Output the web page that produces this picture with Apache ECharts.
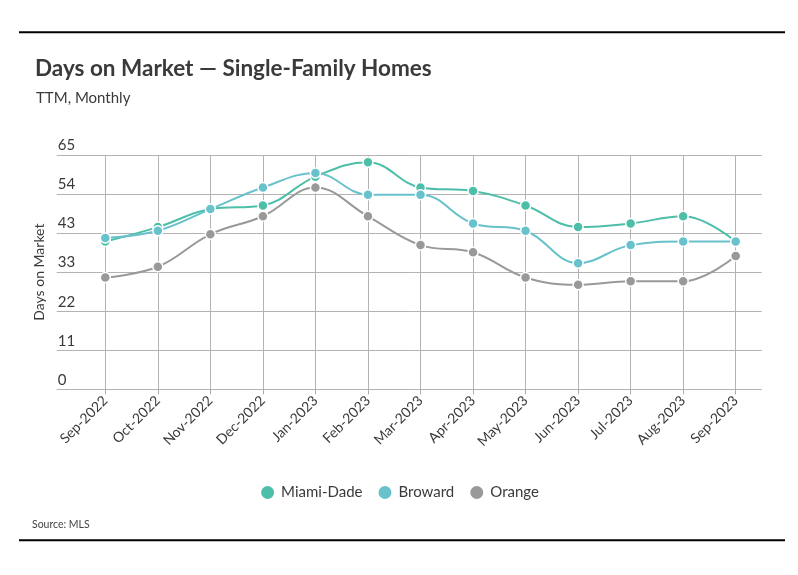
<!DOCTYPE html>
<html>
<head>
<meta charset="utf-8">
<script src="https://cdn.jsdelivr.net/npm/echarts@6/dist/echarts.min.js"></script>
<style>
html,body{margin:0;padding:0;background:#fff;}
#chart{width:798px;height:575px;}
</style>
</head>
<body>
<div id="chart"></div>
<script>
const categories = ['Sep-2022','Oct-2022','Nov-2022','Dec-2022','Jan-2023','Feb-2023','Mar-2023','Apr-2023','May-2023','Jun-2023','Jul-2023','Aug-2023','Sep-2023'];
const miamiDade = [41, 45, 50, 51, 59, 63, 56, 55, 51, 45, 46, 48, 41];
const broward   = [42, 44, 50, 56, 60, 54, 54, 46, 44, 35, 40, 41, 41];
const orange    = [31, 34, 43, 48, 56, 48, 40, 38, 31, 29, 30, 30, 37];
const yTickLabels = ['0','11','22','33','43','54','65'];
const seriesNames = ['Miami-Dade','Broward','Orange'];
const colors = ['#4dbfa9','#68c2cc','#999999'];

const FONT = 'Lato, "Liberation Sans", sans-serif';
const chart = echarts.init(document.getElementById('chart'), null, {renderer:'canvas'});

const yMax = 65, yInt = 65/6;
const gridTop = 155, gridBottom = 575 - 389.3;

function mkSeries(name, data, color){
  return {
    name: name, type: 'line', data: data, smooth: 0.4,
    xAxisIndex: 0, yAxisIndex: 0,
    symbol: 'circle', symbolSize: 10,
    lineStyle: {color: color, width: 2},
    itemStyle: {color: color, borderColor: '#fff', borderWidth: 1.5},
    emphasis: {disabled: true}
  };
}

chart.setOption({
  animation: false,
  backgroundColor: '#fff',
  title: [
    {text: 'Days on Market \u2014 Single-Family Homes', left: 30, top: 52,
     textStyle: {fontFamily: FONT, fontSize: 22.5, fontWeight: 'bold', color: '#3a3a3a'}},
    {text: 'TTM, Monthly', left: 31, top: 86,
     textStyle: {fontFamily: FONT, fontSize: 15, fontWeight: 'normal', color: '#3a3a3a'}},
    {text: 'Source: MLS', left: 27, top: 514,
     textStyle: {fontFamily: FONT, fontSize: 10.5, fontWeight: 'normal', color: '#444'}}
  ],
  legend: {
    data: seriesNames, bottom: 69, left: 'center',
    icon: 'circle', itemWidth: 15, itemHeight: 15, itemGap: 14,
    textStyle: {fontFamily: FONT, fontSize: 15, color: '#3a3a3a', padding: [0,0,0,1]}
  },
  grid: [
    {left: 105.3, right: 798 - 735.7, top: gridTop, bottom: gridBottom},
    {left: 56.7, right: 798 - 761.7, top: gridTop, bottom: gridBottom}
  ],
  xAxis: [
    {type: 'category', gridIndex: 0, data: categories, boundaryGap: false,
     axisLine: {show: false},
     axisTick: {show: true, length: 5, lineStyle: {color: '#aaa'}},
     splitLine: {show: true, lineStyle: {color: '#b3b3b3', width: 1}},
     axisLabel: {rotate: 45, margin: 9, fontFamily: FONT, fontSize: 14, color: '#3a3a3a', interval: 0}},
    {type: 'value', gridIndex: 1, min: 0, max: 1, show: false}
  ],
  yAxis: [
    {type: 'value', gridIndex: 0, min: 0, max: yMax, interval: yInt, show: false},
    {type: 'value', gridIndex: 1, min: 0, max: yMax, interval: yInt,
     name: 'Days on Market', nameLocation: 'middle', nameGap: 9, nameRotate: 90,
     nameTextStyle: {fontFamily: FONT, fontSize: 14, color: '#3a3a3a'},
     axisLine: {show: false}, axisTick: {show: false},
     splitLine: {show: true, lineStyle: {color: '#b3b3b3', width: 1}},
     axisLabel: {inside: true, margin: 1, verticalAlign: 'bottom', padding: [0,0,2,0],
       fontFamily: FONT, fontSize: 15, color: '#3a3a3a',
       formatter: function(v){ return yTickLabels[Math.round(v / yInt)]; }}}
  ],
  series: [
    mkSeries(seriesNames[0], miamiDade, colors[0]),
    mkSeries(seriesNames[1], broward, colors[1]),
    mkSeries(seriesNames[2], orange, colors[2])
  ],
  graphic: [
    {type: 'line', shape: {x1: 19, y1: 32.3, x2: 785, y2: 32.3}, style: {stroke: '#000', lineWidth: 2}},
    {type: 'line', shape: {x1: 19, y1: 540.3, x2: 785, y2: 540.3}, style: {stroke: '#000', lineWidth: 2}}
  ]
});
</script>
</body>
</html>
